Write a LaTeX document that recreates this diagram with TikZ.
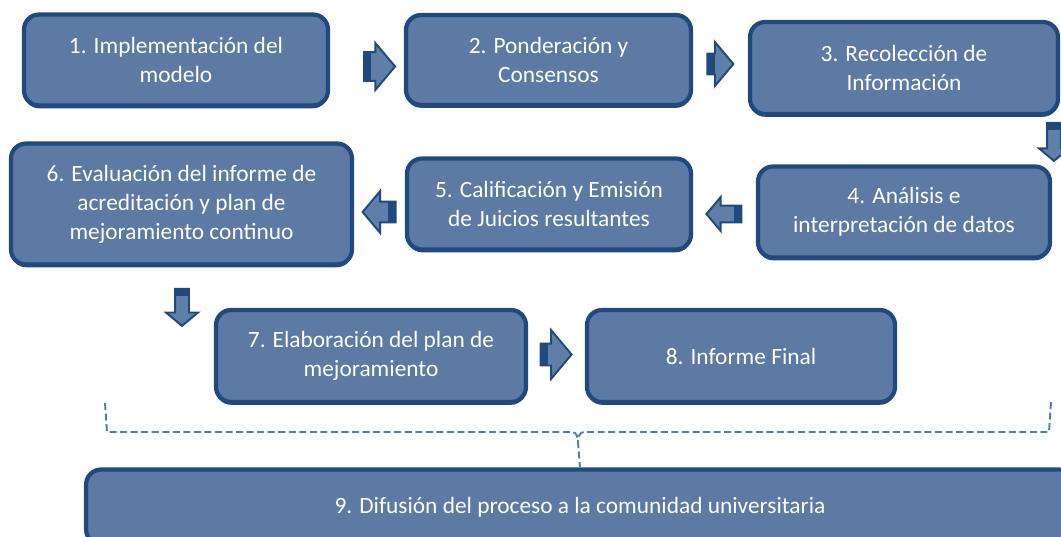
\documentclass[tikz,border=0pt]{standalone}
\usepackage{fontspec}
\setmainfont{Carlito}
\usepackage{tikz}
\usepackage{xcolor}
\usetikzlibrary{shapes,arrows,shadows}
\definecolor{boxfill}{RGB}{92,122,163}
\definecolor{boxline}{RGB}{32,74,126}
\definecolor{arrowfill}{RGB}{96,127,168}
\definecolor{bracecol}{RGB}{74,126,187}
\tikzstyle{block} = [rectangle, draw=boxline, fill=boxfill, line width=2.4pt,
rounded corners=0.3cm, text=white, align=center,
font=\fontsize{13.3}{16.5}\selectfont,
drop shadow={shadow xshift=0pt, shadow yshift=-1.6pt, fill=boxline, opacity=1}]
\tikzstyle{blockarrow} = [single arrow, draw=boxline, fill=arrowfill,
line width=1.1pt, inner xsep=0pt, single arrow tip angle=100]
\tikzstyle{tailband} = [rectangle, fill=boxline, inner sep=0pt,
minimum width=0.16cm, anchor=west]
\tikzstyle{line} = [draw=bracecol, dash pattern=on 4pt off 2pt, line width=1.1pt]

\begin{document}
\begin{tikzpicture}[x=0.02cm, y=-0.02cm]
        \useasboundingbox (0,0) rectangle (1061,537);

        \node [block, minimum width=6.08cm, minimum height=1.82cm] (impl) at (176,60) {1. Implementación del\\modelo};
        \node [block, minimum width=5.7cm, minimum height=1.8cm] (pond) at (548.5,60) {2. Ponderación y\\Consensos};
        \node [block, minimum width=6.16cm, minimum height=1.84cm] (recol) at (904,68) {3. Recolección de\\Información};
        \node [block, minimum width=5.84cm, minimum height=1.82cm] (anal) at (904,212) {4. Análisis e\\interpretación de datos};
        \node [block, minimum width=5.68cm, minimum height=1.82cm] (calif) at (549,204) {5. Calificación y Emisión\\de Juicios resultantes};
        \node [block, minimum width=6.82cm, minimum height=2.42cm] (evalu) at (181.5,204) {6. Evaluación del informe de\\acreditación y plan de\\mejoramiento continuo};
        \node [block, minimum width=6.2cm, minimum height=1.84cm] (elab) at (371,356) {7. Elaboración del plan de\\mejoramiento};
        \node [block, minimum width=6.16cm, minimum height=1.84cm] (final) at (741,356) {8. Informe Final};
        \node [block, minimum width=19.76cm, minimum height=1.5cm] (difus) at (580,507) {9. Difusión del proceso a la comunidad universitaria};

        % block arrows between the steps
        \node [blockarrow, minimum height=0.62cm, inner ysep=0.27cm, single arrow head extend=0.18cm] (a12) at (373.5,66.5) {};
        \node [blockarrow, minimum height=0.52cm, inner ysep=0.19cm, single arrow head extend=0.23cm] (a23) at (716,64) {};
        \node [blockarrow, rotate=-90, minimum height=0.76cm, inner ysep=0.12cm, single arrow head extend=0.16cm] (a34) at (1054,139) {};
        \node [blockarrow, rotate=180, minimum height=0.7cm, inner ysep=0.15cm, single arrow head extend=0.17cm] (a45) at (727.5,214) {};
        \node [blockarrow, rotate=180, minimum height=0.66cm, inner ysep=0.19cm, single arrow head extend=0.21cm] (a56) at (383.5,212) {};
        \node [blockarrow, rotate=-90, minimum height=0.74cm, inner ysep=0.12cm, single arrow head extend=0.18cm] (a67) at (182,304.5) {};
        \node [blockarrow, minimum height=0.62cm, inner ysep=0.2cm, single arrow head extend=0.27cm] (a78) at (551.5,354.5) {};

        \node [tailband, minimum height=0.58cm] at (a12.tail) {};
        \node [tailband, minimum height=0.42cm] at (a23.tail) {};
        \node [tailband, rotate=-90, minimum height=0.28cm] at (a34.tail) {};
        \node [tailband, rotate=180, minimum height=0.34cm] at (a45.tail) {};
        \node [tailband, rotate=180, minimum height=0.42cm] at (a56.tail) {};
        \node [tailband, rotate=-90, minimum height=0.28cm] at (a67.tail) {};
        \node [tailband, minimum height=0.44cm] at (a78.tail) {};

        % dashed bracket down to step 9
        \coordinate (bl) at (105,403);
        \coordinate (br) at (1051,402);
        \coordinate (bmid) at (578,432);
        \path [line] (bl) -- (107,432) -- ([xshift=-0.12cm]bmid) to[out=0,in=90] ([yshift=-0.2cm]bmid) -- (difus.north);
        \path [line] (br) -- (1049,432) -- ([xshift=0.12cm]bmid) to[out=180,in=90] ([yshift=-0.2cm]bmid);
      \end{tikzpicture}
\end{document}
